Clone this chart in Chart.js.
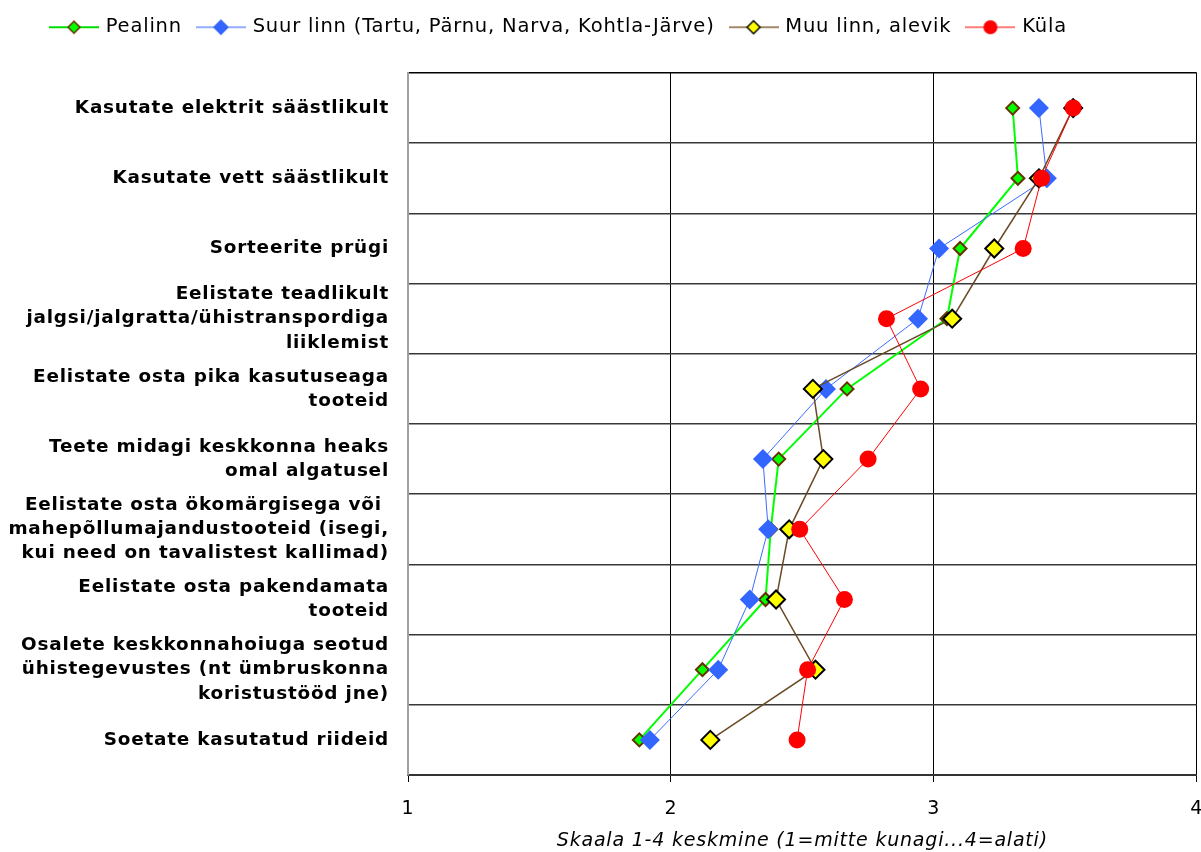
<!DOCTYPE html>
<html>
<head>
<meta charset="utf-8">
<script src="https://cdn.jsdelivr.net/npm/chart.js@4.4.1/dist/chart.umd.min.js"></script>
<style>
  html, body { margin: 0; padding: 0; background: #fff; overflow: hidden; }
  #wrap { width: 1201px; height: 852px; position: relative; }
</style>
</head>
<body>
<div id="wrap"><canvas id="chart"></canvas></div>
<script>
// categories, top to bottom
const categories = [
    'Kasutate elektrit säästlikult',
    'Kasutate vett säästlikult',
    'Sorteerite prügi',
    ['Eelistate teadlikult', 'jalgsi/jalgratta/ühistranspordiga', 'liiklemist'],
    ['Eelistate osta pika kasutuseaga', 'tooteid'],
    ['Teete midagi keskkonna heaks', 'omal algatusel'],
    ['Eelistate osta ökomärgisega või ', 'mahepõllumajandustooteid (isegi,', 'kui need on tavalistest kallimad)'],
    ['Eelistate osta pakendamata', 'tooteid'],
    ['Osalete keskkonnahoiuga seotud', 'ühistegevustes (nt ümbruskonna', 'koristustööd jne)'],
    'Soetate kasutatud riideid'
];

const seriesNames = ['Pealinn', 'Suur linn (Tartu, Pärnu, Narva, Kohtla-Järve)', 'Muu linn, alevik', 'Küla'];

const pealinn  = [3.30, 3.32, 3.10, 3.05, 2.67, 2.41, 2.38, 2.36, 2.12, 1.88];
const suurLinn = [3.40, 3.43, 3.02, 2.94, 2.59, 2.35, 2.37, 2.30, 2.18, 1.92];
const muuLinn  = [3.53, 3.40, 3.23, 3.07, 2.54, 2.58, 2.45, 2.40, 2.55, 2.15];
const kula     = [3.53, 3.41, 3.34, 2.82, 2.95, 2.75, 2.49, 2.66, 2.52, 2.48];

const xTicks = [1, 2, 3, 4];
const xTitle = 'Skaala 1-4 keskmine (1=mitte kunagi...4=alati)';

Chart.defaults.font.family = '"DejaVu Sans", Verdana, sans-serif';
Chart.defaults.color = '#000';

// little line + marker pictures for the legend
function legendIcon(lineColor, lineWidth, shape, fill, stroke, strokeWidth, r) {
    const c = document.createElement('canvas');
    c.width = 50;
    c.height = 22;
    const g = c.getContext('2d');
    g.strokeStyle = lineColor;
    g.lineWidth = lineWidth;
    g.beginPath();
    g.moveTo(0, 11);
    g.lineTo(50, 11);
    g.stroke();
    g.beginPath();
    if (shape === 'circle') {
        g.arc(25, 11, r, 0, Math.PI * 2);
    } else {
        g.moveTo(25 - r, 11);
        g.lineTo(25, 11 - r);
        g.lineTo(25 + r, 11);
        g.lineTo(25, 11 + r);
        g.closePath();
    }
    g.fillStyle = fill;
    g.fill();
    if (strokeWidth) {
        g.strokeStyle = stroke;
        g.lineWidth = strokeWidth;
        g.stroke();
    }
    return c;
}

const legendIcons = [
    legendIcon('#00e000', 2, 'diamond', '#00ff00', '#663300', 1.5, 6),
    legendIcon('#7090ff', 1.5, 'diamond', '#3366ff', null, 0, 8),
    legendIcon('#a08868', 2, 'diamond', '#ffff00', '#000', 1.5, 6.5),
    legendIcon('#ff5050', 1.5, 'circle', '#ff0000', null, 0, 7)
];

const spacing = {
    id: 'spacing',
    beforeInit(chart) {
        const fit = chart.legend.fit;
        chart.legend.fit = function () {
            fit.call(this);
            this.height = 73;
        };
    },
    beforeLayout(chart) {
        chart.ctx.letterSpacing = '0.8px';
    },
    afterLayout(chart) {
        chart.legend.left = 35;
        chart.legend.top = 0.5;
    },
    beforeDraw(chart) {
        chart.ctx.letterSpacing = '0.8px';
    }
};

const ctx = document.getElementById('chart').getContext('2d');
new Chart(ctx, {
    type: 'line',
    data: {
        labels: categories,
        datasets: [
            {
                label: seriesNames[0],
                data: pealinn,
                borderColor: '#00ff00',
                borderWidth: 2,
                pointStyle: 'rectRot',
                pointRadius: 6.5,
                pointBackgroundColor: '#00ff00',
                pointBorderColor: '#663300',
                pointBorderWidth: 2,
                order: 4
            },
            {
                label: seriesNames[1],
                data: suurLinn,
                borderColor: '#3d6bff',
                borderWidth: 1,
                pointStyle: 'rectRot',
                pointRadius: 10,
                pointBackgroundColor: '#3366ff',
                pointBorderWidth: 0,
                order: 3
            },
            {
                label: seriesNames[2],
                data: muuLinn,
                borderColor: '#6b4a26',
                borderWidth: 1.5,
                pointStyle: 'rectRot',
                pointRadius: 9,
                pointBackgroundColor: '#ffff00',
                pointBorderColor: '#000',
                pointBorderWidth: 2,
                order: 2
            },
            {
                label: seriesNames[3],
                data: kula,
                borderColor: '#ff0000',
                borderWidth: 1,
                pointStyle: 'circle',
                pointRadius: 8.5,
                pointBackgroundColor: '#ff0000',
                pointBorderWidth: 0,
                order: 1
            }
        ]
    },
    options: {
        indexAxis: 'y',
        responsive: true,
        maintainAspectRatio: false,
        animation: false,
        events: [],
        layout: { autoPadding: false, padding: { left: 0, right: 4.3, top: 0, bottom: 0 } },
        elements: { line: { tension: 0, fill: false } },
        scales: {
            x: {
                type: 'linear',
                position: 'bottom',
                min: 1,
                max: 4,
                afterBuildTicks(scale) {
                    scale.ticks = xTicks.map(v => ({ value: v }));
                },
                ticks: { font: { size: 19 }, padding: 16, color: '#000' },
                grid: {
                    color: c => (c.tick && c.tick.value === 1 ? '#a0a0a0' : '#000'),
                    lineWidth: 1,
                    tickLength: 7,
                    tickColor: '#000'
                },
                border: { color: '#333', width: 2 },
                title: {
                    display: true,
                    text: xTitle,
                    color: '#000',
                    font: { size: 19, style: 'italic' },
                    padding: { top: 0, bottom: 0 }
                },
                afterFit(scale) {
                    scale.height = 77;
                    scale.paddingLeft = 0;
                    scale.paddingRight = 0;
                }
            },
            y: {
                type: 'category',
                offset: true,
                grid: {
                    offset: true,
                    drawTicks: false,
                    color: c => (c.index === 0 ? '#000' : '#383838'),
                    lineWidth: 1.5
                },
                border: { color: '#a0a0a0', width: 2 },
                ticks: {
                    autoSkip: false,
                    padding: 19,
                    color: '#000',
                    font: { size: 18.4, weight: 'bold', lineHeight: 1.31 }
                },
                afterFit(scale) {
                    scale.width = 408;
                    scale.paddingTop = 0;
                    scale.paddingBottom = 0;
                }
            }
        },
        plugins: {
            tooltip: { enabled: false },
            legend: {
                position: 'top',
                align: 'start',
                labels: {
                    usePointStyle: true,
                    pointStyleWidth: 44,
                    padding: 17,
                    color: '#000',
                    font: { size: 19.5 },
                    generateLabels(chart) {
                        const items = Chart.defaults.plugins.legend.labels.generateLabels(chart);
                        items.forEach(it => { it.pointStyle = legendIcons[it.datasetIndex]; });
                        return items;
                    },
                    sort: (a, b) => a.datasetIndex - b.datasetIndex
                }
            }
        }
    },
    plugins: [spacing]
});
</script>
</body>
</html>
